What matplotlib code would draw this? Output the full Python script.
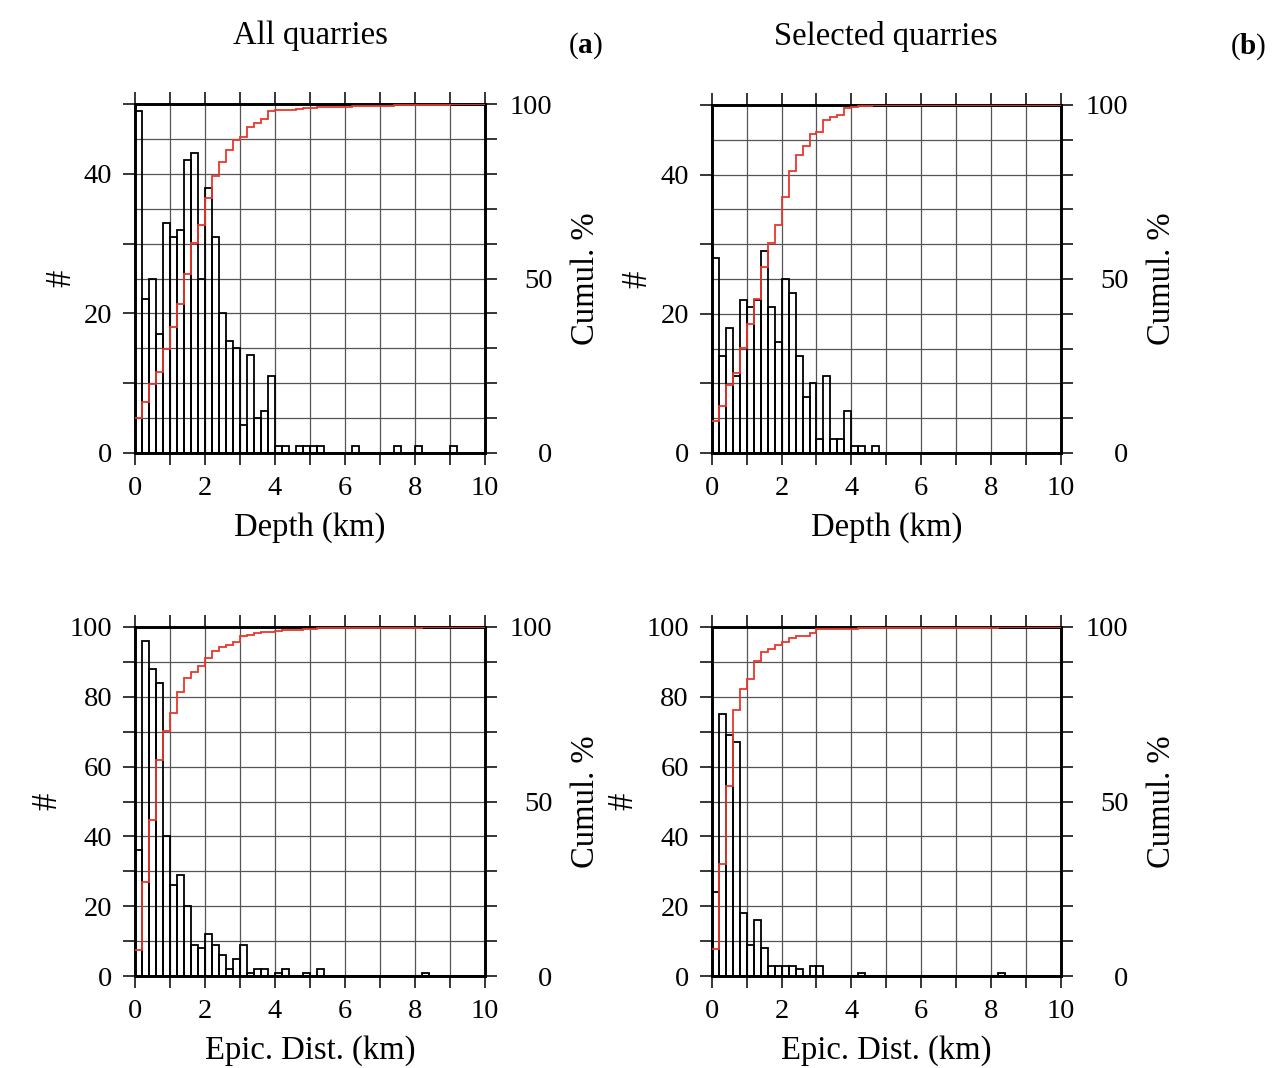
import matplotlib.pyplot as plt
import numpy as np
from matplotlib.ticker import MultipleLocator, FixedLocator

plt.rcParams['font.family'] = 'Liberation Serif'
plt.rcParams['mathtext.fontset'] = 'custom'
plt.rcParams['mathtext.rm'] = 'Liberation Serif'
plt.rcParams['mathtext.bf'] = 'Liberation Serif:bold'

# 0.2 km bins from 0 to 10 km
edges = np.linspace(0, 10, 51)

# counts per bin, all quarries
depth_all = [49, 22, 25, 17, 33, 31, 32, 42, 43, 25,
             38, 31, 20, 16, 15, 4, 14, 5, 6, 11,
             1, 1, 0, 1, 1, 1, 1, 0, 0, 0,
             0, 1, 0, 0, 0, 0, 0, 1, 0, 0,
             1, 0, 0, 0, 0, 1, 0, 0, 0, 0]
dist_all = [36, 96, 88, 84, 40, 26, 29, 20, 9, 8,
            12, 9, 6, 2, 5, 9, 1, 2, 2, 0,
            1, 2, 0, 0, 1, 0, 2, 0, 0, 0,
            0, 0, 0, 0, 0, 0, 0, 0, 0, 0,
            0, 1, 0, 0, 0, 0, 0, 0, 0, 0]

# counts per bin, selected quarries
depth_sel = [28, 14, 18, 11, 22, 21, 22, 29, 21, 16,
             25, 23, 14, 8, 10, 2, 11, 2, 2, 6,
             1, 1, 0, 1, 0, 0, 0, 0, 0, 0,
             0, 0, 0, 0, 0, 0, 0, 0, 0, 0,
             0, 0, 0, 0, 0, 0, 0, 0, 0, 0]
dist_sel = [24, 75, 69, 67, 18, 9, 16, 8, 3, 3,
            3, 3, 2, 0, 3, 3, 0, 0, 0, 0,
            0, 1, 0, 0, 0, 0, 0, 0, 0, 0,
            0, 0, 0, 0, 0, 0, 0, 0, 0, 0,
            0, 1, 0, 0, 0, 0, 0, 0, 0, 0]

W, H = 1276, 1068
fig = plt.figure(figsize=(W / 100, H / 100), dpi=100)


def rect(l, t, r, b):
    return [l / W, 1 - b / H, (r - l) / W, (b - t) / H]


RED = '#e8372c'
GRID = '#555555'
TL = 8.5
FS = 20.5
LFS = 23.5


def panel(box, counts, ymax, ygrid, yticks, xlabel):
    counts = np.asarray(counts, dtype=float)
    cum = np.cumsum(counts) / counts.sum() * 100

    ax = fig.add_axes(rect(*box))
    for x in np.arange(1, 10):
        ax.axvline(x, color=GRID, lw=0.9, zorder=0)
    for y in np.arange(ygrid, ymax, ygrid):
        ax.axhline(y, color=GRID, lw=0.9, zorder=0)

    ax.bar(edges[:-1], counts, width=0.2, align='edge', fill=False,
           edgecolor='k', linewidth=1.3, zorder=2)
    ax.set_xlim(0, 10)
    ax.set_ylim(0, ymax)
    ax.xaxis.set_major_locator(MultipleLocator(2))
    ax.xaxis.set_minor_locator(MultipleLocator(1))
    ax.yaxis.set_major_locator(FixedLocator(yticks))
    ax.yaxis.set_minor_locator(MultipleLocator(10))
    ax.tick_params(which='both', direction='out', length=TL, width=1.1,
                   top=True, labelsize=FS, pad=8)
    ax.set_xlabel(xlabel, fontsize=LFS, labelpad=8)
    ax.set_ylabel('#', fontsize=25, labelpad=4)

    ax2 = ax.twinx()
    ax2.stairs(cum, edges, baseline=None, color=RED, lw=1.3, zorder=3)
    ax2.set_ylim(0, 100)
    ax2.yaxis.set_major_locator(FixedLocator([0, 50, 100]))
    ax2.yaxis.set_minor_locator(MultipleLocator(10))
    ax2.tick_params(which='both', direction='out', length=TL, width=1.1,
                    labelsize=FS, pad=40)
    for lbl in ax2.get_yticklabels():
        lbl.set_horizontalalignment('right')
    ax2.set_ylabel('Cumul. %', fontsize=LFS, labelpad=13)

    for a in (ax, ax2):
        for s in a.spines.values():
            s.set_linewidth(1.9)
    return ax


panel((135, 104, 485, 453), depth_all, 50, 5, [0, 20, 40], 'Depth (km)')
panel((711.7, 105, 1061, 453), depth_sel, 50, 5, [0, 20, 40], 'Depth (km)')
panel((135, 627, 485, 976), dist_all, 100, 10,
      [0, 20, 40, 60, 80, 100], 'Epic. Dist. (km)')
panel((711.7, 627, 1061, 976), dist_sel, 100, 10,
      [0, 20, 40, 60, 80, 100], 'Epic. Dist. (km)')

fig.text(310 / W, 1 - 36 / H, 'All quarries', ha='center', va='center',
         fontsize=LFS)
fig.text(886 / W, 1 - 37 / H, 'Selected quarries', ha='center',
         va='center', fontsize=LFS)
fig.text(585 / W, 1 - 46 / H, r'($\mathbf{a}$)', ha='center', va='center',
         fontsize=21)
fig.text(1248 / W, 1 - 47 / H, r'($\mathbf{b}$)', ha='center', va='center',
         fontsize=21)

fig.savefig('out.png', dpi=100, facecolor='white')
